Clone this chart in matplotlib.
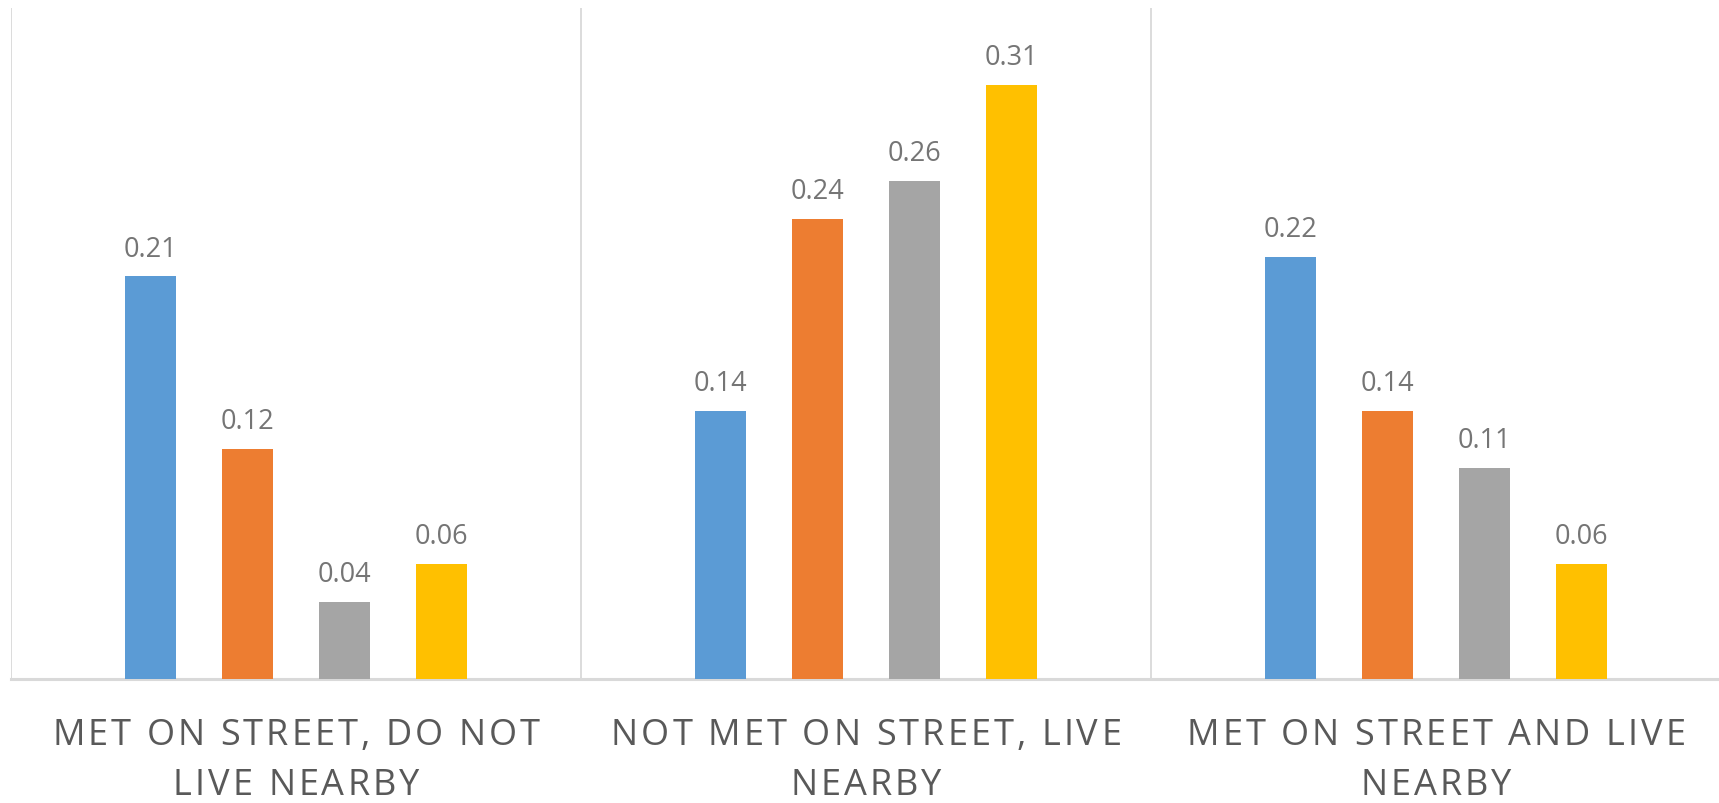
import numpy as np
import matplotlib
matplotlib.use("Agg")
import matplotlib.pyplot as plt
from matplotlib.transforms import IdentityTransform

# data
categories = ['MET ON STREET, DO NOT\nLIVE NEARBY',
              'NOT MET ON STREET, LIVE\nNEARBY',
              'MET ON STREET AND LIVE\nNEARBY']
s1 = [0.21, 0.14, 0.22]
s2 = [0.12, 0.24, 0.14]
s3 = [0.04, 0.26, 0.11]
s4 = [0.06, 0.31, 0.06]
series = [s1, s2, s3, s4]
colors = ['#5B9BD5', '#ED7D31', '#A5A5A5', '#FFC000']

plt.rcParams['font.family'] = ['Open Sans', 'DejaVu Sans']

fig = plt.figure(figsize=(17.19, 8.04), dpi=100)
ax = fig.add_axes([11 / 1719, 124 / 804, 1710 / 1719, 671 / 804])

x = np.arange(len(categories))
width = 0.09
pitch = 0.17
for i, (vals, c) in enumerate(zip(series, colors)):
    pos = x + (i - 1.5) * pitch
    bars = ax.bar(pos, vals, width, color=c, zorder=3)
    for b, v in zip(bars, vals):
        ax.annotate('%.2f' % v, (b.get_x() + b.get_width() / 2, v),
                    xytext=(0, 15), textcoords='offset points',
                    ha='center', va='baseline', fontsize=19.5, color='#757575')

ax.set_xlim(-0.5, 2.5)
ax.set_ylim(0, 0.35)
ax.set_yticks([])
ax.set_xticks(x)
ax.set_xticklabels([])
ax.tick_params(axis='x', length=0)
for b in [-0.5, 0.5, 1.5, 2.5]:
    ax.axvline(b, color='#D9D9D9', lw=1.3, zorder=1)
for sp in ['top', 'right', 'left']:
    ax.spines[sp].set_visible(False)
ax.spines['bottom'].set_color('#D9D9D9')
ax.spines['bottom'].set_linewidth(2.2)

# category labels, drawn char by char to get the letter spacing
renderer = fig.canvas.get_renderer()
lab_fs = 26
def text_w(s):
    t = fig.text(0, 0, s, fontsize=lab_fs)
    w = t.get_window_extent(renderer).width
    t.remove()
    return w

w_ref = text_w('I')
first = categories[0].split('\n')[0]
spacing = (488 - text_w(first)) / (len(first) - 1)

line_y = [804 - 745, 804 - 795]
for xi, lab in zip(x, categories):
    cx = ax.transData.transform((xi, 0))[0]
    for k, line in enumerate(lab.split('\n')):
        total = text_w(line) + spacing * (len(line) - 1)
        x0 = cx - total / 2
        for j, ch in enumerate(line):
            if ch == ' ':
                continue
            xj = x0 + (text_w(line[:j] + 'I') - w_ref if j > 0 else 0) + spacing * j
            fig.text(xj, line_y[k], ch, fontsize=lab_fs, color='#595959',
                     ha='left', va='baseline', transform=IdentityTransform())

plt.savefig('out.png', dpi=100)
